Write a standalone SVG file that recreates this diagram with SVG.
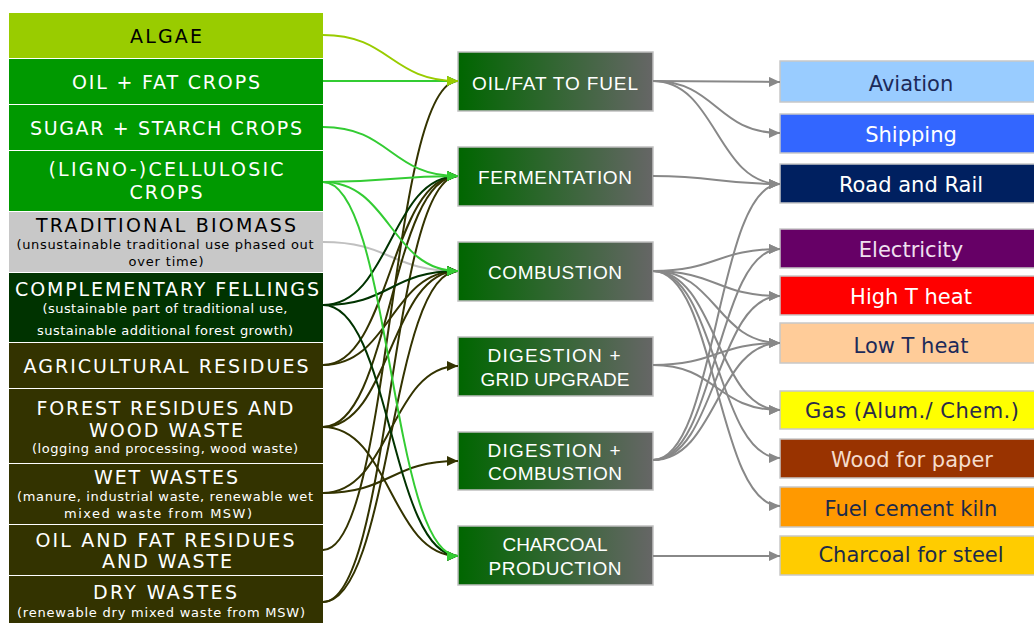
<svg xmlns="http://www.w3.org/2000/svg" width="1034" height="623" viewBox="0 0 1034 623">
<defs>
<linearGradient id="mid" x1="0" y1="0" x2="1" y2="0">
<stop offset="0" stop-color="#006600"/>
<stop offset="1" stop-color="#666666"/>
</linearGradient>
<marker id="aOl" markerUnits="userSpaceOnUse" markerWidth="12" markerHeight="10" refX="11" refY="5" orient="auto"><path d="M0,0 L11,5 L0,10 z" fill="#333300"/></marker>
<marker id="aDg" markerUnits="userSpaceOnUse" markerWidth="12" markerHeight="10" refX="11" refY="5" orient="auto"><path d="M0,0 L11,5 L0,10 z" fill="#003300"/></marker>
<marker id="aLg" markerUnits="userSpaceOnUse" markerWidth="12" markerHeight="10" refX="11" refY="5" orient="auto"><path d="M0,0 L11,5 L0,10 z" fill="#33cc33"/></marker>
<marker id="aYg" markerUnits="userSpaceOnUse" markerWidth="12" markerHeight="10" refX="11" refY="5" orient="auto"><path d="M0,0 L11,5 L0,10 z" fill="#99cc00"/></marker>
<marker id="aGy" markerUnits="userSpaceOnUse" markerWidth="12" markerHeight="10" refX="11" refY="5" orient="auto"><path d="M0,0 L11,5 L0,10 z" fill="#c0c0c0"/></marker>
<marker id="aRt" markerUnits="userSpaceOnUse" markerWidth="12" markerHeight="10" refX="11" refY="5" orient="auto"><path d="M0,0 L11,5 L0,10 z" fill="#888888"/></marker>
</defs>
<style>
.src text{font-family:"DejaVu Sans",Verdana,sans-serif;text-anchor:middle}
.t{font-size:19px}
.s{font-size:13px}
.w{fill:#ffffff}
.k{fill:#000000}
.mid rect{fill:url(#mid);stroke:#c0c0c0;stroke-width:1.5}
.mid text{font-family:"Liberation Sans",Arial,sans-serif;font-size:19px;fill:#ffffff;text-anchor:middle}
.out rect{stroke:#c8c8c8;stroke-width:1.5}
.out text{font-family:"DejaVu Sans",Verdana,sans-serif;font-size:21px;text-anchor:middle}
.nv{fill:#1c2a5a}
.c path{fill:none;stroke-width:2}
.ol{stroke:#333300;marker-end:url(#aOl)}
.dg{stroke:#003300;marker-end:url(#aDg)}
.lg{stroke:#33cc33;marker-end:url(#aLg)}
.yg{stroke:#99cc00;marker-end:url(#aYg)}
.gy{stroke:#c0c0c0;marker-end:url(#aGy)}
.rt{stroke:#888888;marker-end:url(#aRt)}
</style>
<rect width="1034" height="623" fill="#ffffff"/>

<g id="src-algae" class="src"><rect x="9" y="13" width="314" height="45" fill="#99cc00"/><text class="t k" x="166" y="43" textLength="72" lengthAdjust="spacing">ALGAE</text></g>
<g id="src-oilfat" class="src"><rect x="9" y="59" width="314" height="45" fill="#009900"/><text class="t w" x="166" y="89" textLength="188" lengthAdjust="spacing">OIL + FAT CROPS</text></g>
<g id="src-sugar" class="src"><rect x="9" y="105" width="314" height="45" fill="#009900"/><text class="t w" x="166" y="135" textLength="272" lengthAdjust="spacing">SUGAR + STARCH CROPS</text></g>
<g id="src-cell" class="src"><rect x="9" y="151" width="314" height="60" fill="#009900"/><text class="t w" x="166" y="176" textLength="235" lengthAdjust="spacing">(LIGNO-)CELLULOSIC</text><text class="t w" x="166" y="199" textLength="73" lengthAdjust="spacing">CROPS</text></g>
<g id="src-trad" class="src"><rect x="9" y="212" width="314" height="60" fill="#c8c8c8"/><text class="t k" x="166" y="232" textLength="260" lengthAdjust="spacing">TRADITIONAL BIOMASS</text><text class="s k" x="165" y="249" textLength="297" lengthAdjust="spacing">(unsustainable traditional use phased out</text><text class="s k" x="166" y="266" textLength="75" lengthAdjust="spacing">over time)</text></g>
<g id="src-comp" class="src"><rect x="9" y="273" width="314" height="69" fill="#003300"/><text class="t w" x="167" y="296" textLength="304" lengthAdjust="spacing">COMPLEMENTARY FELLINGS</text><text class="s w" x="165" y="313" textLength="245" lengthAdjust="spacing">(sustainable part of traditional use,</text><text class="s w" x="165" y="335" textLength="256" lengthAdjust="spacing">sustainable additional forest growth)</text></g>
<g id="src-agri" class="src"><rect x="9" y="343" width="314" height="45" fill="#333300"/><text class="t w" x="166" y="373" textLength="285" lengthAdjust="spacing">AGRICULTURAL RESIDUES</text></g>
<g id="src-forest" class="src"><rect x="9" y="389" width="314" height="74" fill="#333300"/><text class="t w" x="165" y="415" textLength="257" lengthAdjust="spacing">FOREST RESIDUES AND</text><text class="t w" x="166" y="437" textLength="154" lengthAdjust="spacing">WOOD WASTE</text><text class="s w" x="165" y="453" textLength="266" lengthAdjust="spacing">(logging and processing, wood waste)</text></g>
<g id="src-wet" class="src"><rect x="9" y="464" width="314" height="60" fill="#333300"/><text class="t w" x="166" y="484" textLength="144" lengthAdjust="spacing">WET WASTES</text><text class="s w" x="165" y="501" textLength="296" lengthAdjust="spacing">(manure, industrial waste, renewable wet</text><text class="s w" x="158" y="518" textLength="188" lengthAdjust="spacing">mixed waste from MSW)</text></g>
<g id="src-ofr" class="src"><rect x="9" y="525" width="314" height="50" fill="#333300"/><text class="t w" x="165" y="547" textLength="259" lengthAdjust="spacing">OIL AND FAT RESIDUES</text><text class="t w" x="167" y="568" textLength="130" lengthAdjust="spacing">AND WASTE</text></g>
<g id="src-dry" class="src"><rect x="9" y="576" width="314" height="50" fill="#333300"/><text class="t w" x="165" y="599" textLength="144" lengthAdjust="spacing">DRY WASTES</text><text class="s w" x="161" y="617" textLength="288" lengthAdjust="spacing">(renewable dry mixed waste from MSW)</text></g>

<g id="mid-oilfat" class="mid"><rect x="458" y="52" width="195" height="59"/><text x="555" y="90" textLength="166" lengthAdjust="spacing">OIL/FAT TO FUEL</text></g>
<g id="mid-ferm" class="mid"><rect x="458" y="147" width="195" height="59"/><text x="555" y="184" textLength="154" lengthAdjust="spacing">FERMENTATION</text></g>
<g id="mid-comb" class="mid"><rect x="458" y="242" width="195" height="59"/><text x="555" y="279" textLength="134" lengthAdjust="spacing">COMBUSTION</text></g>
<g id="mid-dg" class="mid"><rect x="458" y="337" width="195" height="59"/><text x="554" y="362" textLength="133" lengthAdjust="spacing">DIGESTION +</text><text x="555" y="386" textLength="149" lengthAdjust="spacing">GRID UPGRADE</text></g>
<g id="mid-dc" class="mid"><rect x="458" y="432" width="195" height="58"/><text x="554" y="457" textLength="133" lengthAdjust="spacing">DIGESTION +</text><text x="555" y="480" textLength="134" lengthAdjust="spacing">COMBUSTION</text></g>
<g id="mid-char" class="mid"><rect x="458" y="526" width="195" height="59"/><text x="555" y="551" textLength="105" lengthAdjust="spacing">CHARCOAL</text><text x="555" y="575" textLength="133" lengthAdjust="spacing">PRODUCTION</text></g>

<g id="out-aviation" class="out"><rect x="780" y="61" width="262" height="41" fill="#99ccff"/><text class="nv" x="911" y="91">Aviation</text></g>
<g id="out-shipping" class="out"><rect x="780" y="114" width="262" height="39" fill="#3366ff"/><text class="w" x="911" y="142">Shipping</text></g>
<g id="out-road" class="out"><rect x="780" y="164" width="262" height="39" fill="#002060"/><text class="w" x="911" y="192">Road and Rail</text></g>
<g id="out-elec" class="out"><rect x="780" y="229" width="262" height="39" fill="#660066"/><text fill="#f0e0f0" x="911" y="257">Electricity</text></g>
<g id="out-hight" class="out"><rect x="780" y="276" width="262" height="39" fill="#ff0000"/><text class="w" x="911" y="304">High T heat</text></g>
<g id="out-lowt" class="out"><rect x="780" y="323" width="262" height="40" fill="#ffcc99"/><text class="nv" x="911" y="353">Low T heat</text></g>
<g id="out-gas" class="out"><rect x="780" y="391" width="262" height="38" fill="#ffff00"/><text fill="#2a2a4a" x="912" y="418" textLength="214" lengthAdjust="spacing">Gas (Alum./ Chem.)</text></g>
<g id="out-wood" class="out"><rect x="780" y="439" width="262" height="39" fill="#993300"/><text fill="#f5dccb" x="912" y="467">Wood for paper</text></g>
<g id="out-cement" class="out"><rect x="780" y="487" width="262" height="40" fill="#ff9900"/><text fill="#1c2a4a" x="911" y="516">Fuel cement kiln</text></g>
<g id="out-charsteel" class="out"><rect x="780" y="536" width="262" height="39" fill="#ffcc00"/><text fill="#1c2a4a" x="911" y="562">Charcoal for steel</text></g>

<g id="connectors" class="c">
<path class="gy" d="M323,242 C390.5,242 390.5,271 458,271"/>
<path class="ol" d="M323,365 C390.5,365 390.5,176 458,176"/>
<path class="ol" d="M323,365 C390.5,365 390.5,271 458,271"/>
<path class="ol" d="M323,427 C390.5,427 390.5,176 458,176"/>
<path class="ol" d="M323,427 C390.5,427 390.5,271 458,271"/>
<path class="ol" d="M323,427 C390.5,427 390.5,556 458,556"/>
<path class="ol" d="M323,493 C390.5,493 390.5,366 458,366"/>
<path class="ol" d="M323,493 C390.5,493 390.5,461 458,461"/>
<path class="ol" d="M323,550 C390.5,550 390.5,81 458,81"/>
<path class="ol" d="M323,602 C390.5,602 390.5,176 458,176"/>
<path class="ol" d="M323,602 C390.5,602 390.5,271 458,271"/>
<path class="dg" d="M323,305 C390.5,305 390.5,176 458,176"/>
<path class="dg" d="M323,305 C390.5,305 390.5,271 458,271"/>
<path class="dg" d="M323,305 C390.5,305 390.5,556 458,556"/>
<path class="lg" d="M323,81 L458,81"/>
<path class="lg" d="M323,127 C390.5,127 390.5,176 458,176"/>
<path class="lg" d="M323,182 C390.5,182 390.5,176 458,176"/>
<path class="lg" d="M323,182 C390.5,182 390.5,271 458,271"/>
<path class="lg" d="M323,182 C390.5,182 390.5,556 458,556"/>
<path class="yg" d="M323,35 C390.5,35 390.5,81 458,81"/>

<path class="rt" d="M653,81 L780,82"/>
<path class="rt" d="M653,81 C716.5,81 716.5,133 780,133"/>
<path class="rt" d="M653,81 C716.5,81 716.5,184 780,184"/>
<path class="rt" d="M653,176 C716.5,176 716.5,184 780,184"/>
<path class="rt" d="M653,271 C716.5,271 716.5,249 780,249"/>
<path class="rt" d="M653,271 C716.5,271 716.5,296 780,296"/>
<path class="rt" d="M653,271 C716.5,271 716.5,343 780,343"/>
<path class="rt" d="M653,271 C716.5,271 716.5,410 780,410"/>
<path class="rt" d="M653,271 C716.5,271 716.5,458 780,458"/>
<path class="rt" d="M653,271 C716.5,271 716.5,506 780,506"/>
<path class="rt" d="M653,365 C716.5,365 716.5,343 780,343"/>
<path class="rt" d="M653,365 C716.5,365 716.5,410 780,410"/>
<path class="rt" d="M653,460 C716.5,460 716.5,184 780,184"/>
<path class="rt" d="M653,460 C716.5,460 716.5,249 780,249"/>
<path class="rt" d="M653,460 C716.5,460 716.5,296 780,296"/>
<path class="rt" d="M653,460 C716.5,460 716.5,343 780,343"/>
<path class="rt" d="M653,556 L780,556"/>
</g>
</svg>
